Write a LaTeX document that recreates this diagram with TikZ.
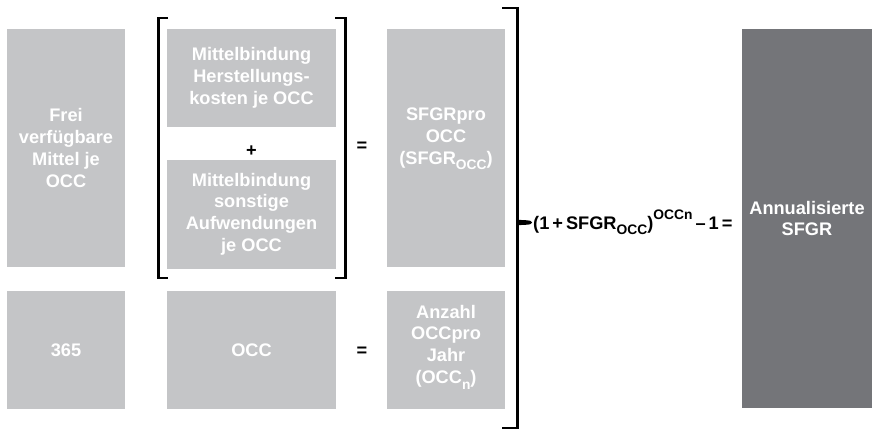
\documentclass[tikz,border=0pt]{standalone}
\usepackage{fontspec}
\setmainfont{Liberation Sans}
\definecolor{lightbox}{HTML}{C4C5C7}
\definecolor{darkbox}{HTML}{747579}
\newcommand\lowsub[1]{\raisebox{-0.3em}{\fontsize{13.8}{13.8}\selectfont #1}}
\newcommand\highsup[1]{\raisebox{0.55em}{\fontsize{13.8}{13.8}\selectfont #1}}
\begin{document}
\begin{tikzpicture}[x=1pt,y=-1pt,
  box/.style={fill=lightbox,text=white,font=\bfseries\fontsize{18.2}{21.8}\selectfont,align=center,inner sep=0pt},
  boxtext/.style={text=white,font=\bfseries\fontsize{18.2}{21.8}\selectfont,align=center,inner sep=0pt},
  darkboxst/.style={fill=darkbox,text=white,font=\bfseries\fontsize{18.2}{21.8}\selectfont,align=center,inner sep=0pt},
  op/.style={font=\bfseries\fontsize{18.2}{21.8}\selectfont,inner sep=0pt},
  brk/.style={line width=2.6pt,line cap=butt,line join=miter}]
\useasboundingbox (0,0) rectangle (885,431);
% boxes
\node[box,minimum width=118pt,minimum height=238pt] (frei) at (66,148) {Frei\\verfügbare\\Mittel je\\OCC};
\node[box,minimum width=169pt,minimum height=98pt] (mh) at (251.5,78) {Mittelbindung\\Herstellungs-\\kosten je OCC};
\node[box,minimum width=169pt,minimum height=109pt] (ms) at (251.5,214) {Mittelbindung\\sonstige\\Aufwendungen\\je OCC};
\node[box,minimum width=118pt,minimum height=238pt] (sfgr) at (446,148) {};
\node[boxtext] (sfgrt) at ([yshift=9pt]sfgr.center) {SFGRpro\\OCC\\(SFGR\lowsub{OCC})};
\node[box,minimum width=118pt,minimum height=118pt] (d365) at (66,350) {365};
\node[box,minimum width=169pt,minimum height=118pt] (occ) at (251.5,350) {OCC};
\node[box,minimum width=118pt,minimum height=118pt] (anz) at (446,350) {};
\node[boxtext] (anzt) at ([yshift=3pt]anz.center) {Anzahl\\OCCpro\\Jahr\\(OCC\lowsub{n})};
\node[darkboxst,minimum width=130pt,minimum height=379pt] (ann) at (807,218.5) {Annualisierte\\SFGR};
% operators
\node[op] (plus) at (251.5,151) {+};
\node[op] (eq1) at (362,147) {=};
\node[op] (eq2) at (362,352) {=};
% inner brackets
\coordinate (lbt) at (168,18);
\coordinate (lbb) at (168,278);
\draw[brk] (lbt) -- (158.3,18) -- (158.3,278) -- (lbb);
\coordinate (rbt) at (335,18);
\coordinate (rbb) at (335,278);
\draw[brk] (rbt) -- (345.7,18) -- (345.7,278) -- (rbb);
% big bracket
\coordinate (bbt) at (502,8);
\coordinate (bbb) at (502,428);
\coordinate (tip) at (532,222.5);
\draw[brk] (bbt) -- (517.7,8) -- (517.7,428) -- (bbb);
\fill (517.7,219.8) -- (527,220.3) .. controls (531,220.8) .. (tip) .. controls (531,224.2) .. (527,224.7) -- (517.7,225.2) -- cycle;
% formula
\node[op,anchor=west] (form) at (533,222.5) {(1\,+\,SFGR\lowsub{OCC})\highsup{OCCn}\,–\,1\,=};
\end{tikzpicture}
\end{document}
